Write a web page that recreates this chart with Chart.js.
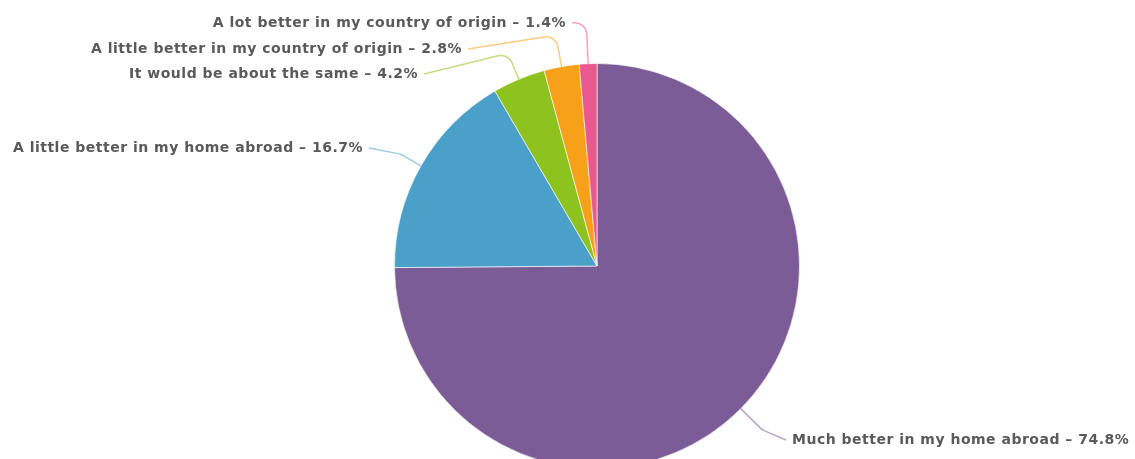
<!DOCTYPE html>
<html>
<head>
<meta charset="utf-8">
<script src="https://cdn.jsdelivr.net/npm/chart.js@4.4.0/dist/chart.umd.min.js"></script>
<style>
  html, body { margin: 0; padding: 0; background: #fff; overflow: hidden; }
  canvas { display: block; }
</style>
</head>
<body>
<canvas id="myChart" width="1135" height="480"></canvas>
<script>
// donnees
var categories = [
    'Much better in my home abroad',
    'A little better in my home abroad',
    'It would be about the same',
    'A little better in my country of origin',
    'A lot better in my country of origin'
];
var shares = [74.8, 16.7, 4.2, 2.8, 1.4];
var colors = ['#7b5c97', '#4ba0c9', '#8dc21f', '#f7a11a', '#ea5890'];

// mise en page des etiquettes (x, y, alignement, longueur du coude)
var labelPos = [
    { x: 792, y: 440, align: 'left', len: 30 },
    { x: 363, y: 148, align: 'right', len: 24 },
    { x: 418, y: 74, align: 'right', len: 28 },
    { x: 462, y: 49, align: 'right', len: 32 },
    { x: 566, y: 23, align: 'right', len: 43 }
];

function hexA(hex, a) {
    var n = parseInt(hex.slice(1), 16);
    return 'rgba(' + (n >> 16) + ',' + ((n >> 8) & 255) + ',' + (n & 255) + ',' + a + ')';
}

var leaderLabels = {
    id: 'leaderLabels',
    afterDatasetsDraw: function(chart) {
        var ctx = chart.ctx;
        var meta = chart.getDatasetMeta(0);
        ctx.save();
        meta.data.forEach(function(arc, i) {
            var p = arc.getProps(['x', 'y', 'startAngle', 'endAngle', 'outerRadius'], true);
            var mid = (p.startAngle + p.endAngle) / 2;
            var dx = Math.cos(mid), dy = Math.sin(mid);
            var ex = p.x + dx * p.outerRadius, ey = p.y + dy * p.outerRadius;
            var lp = labelPos[i];
            var bx = ex + dx * lp.len, by = ey + dy * lp.len;
            var tx = lp.align === 'right' ? lp.x + 6 : lp.x - 6;

            // trait de liaison
            ctx.beginPath();
            ctx.moveTo(ex, ey);
            ctx.arcTo(bx, by, tx, lp.y, 12);
            ctx.lineTo(tx, lp.y);
            ctx.strokeStyle = hexA(colors[i], 0.55);
            ctx.lineWidth = 1.5;
            ctx.stroke();

            // texte
            ctx.font = 'bold 14px "DejaVu Sans", sans-serif';
            ctx.letterSpacing = '0.5px';
            ctx.fillStyle = '#5a5a5a';
            ctx.textAlign = lp.align;
            ctx.textBaseline = 'middle';
            ctx.fillText(categories[i] + ' \u2013 ' + shares[i].toFixed(1) + '%', lp.x, lp.y);
        });
        ctx.restore();
    }
};

var ctx = document.getElementById('myChart').getContext('2d');
var myChart = new Chart(ctx, {
    type: 'pie',
    data: {
        labels: categories,
        datasets: [{
            data: shares,
            backgroundColor: colors,
            borderColor: 'rgba(255,255,255,0.6)',
            borderWidth: 1
        }]
    },
    options: {
        responsive: false,
        animation: false,
        layout: {
            padding: { top: 63, bottom: 11, left: 394, right: 335 }
        },
        plugins: {
            legend: { display: false },
            tooltip: { enabled: false }
        }
    },
    plugins: [leaderLabels]
});
</script>
</body>
</html>
